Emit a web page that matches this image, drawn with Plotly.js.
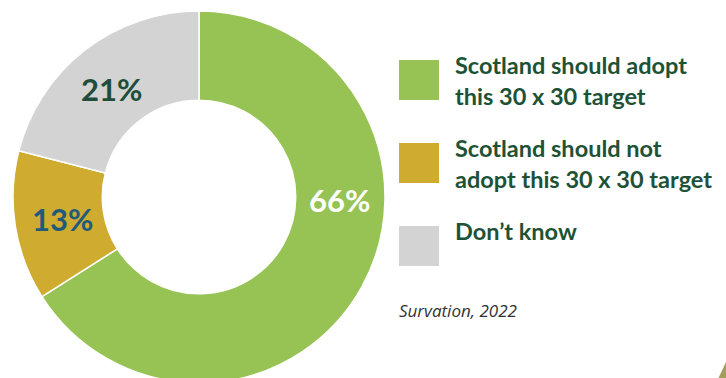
<!DOCTYPE html>
<html><head><meta charset="utf-8">
<script src="https://cdn.plot.ly/plotly-3.0.1.min.js"></script>
<style>html,body{margin:0;padding:0;overflow:hidden;background:#fff}#chart{width:726px;height:400px}</style>
</head><body><div id="chart"></div>
<script>
const categories = ["Scotland should adopt<br>this 30 x 30 target", "Scotland should not<br>adopt this 30 x 30 target", "Don’t know"];
const values = [66, 13, 21];
const colors = ["#97C355", "#CFAB30", "#D3D3D3"];
const labelColors = ["#FFFFFF", "#1F5B7A", "#1E4D3A"];
const source = "Survation, 2022";

const W = 726, H = 400;
const px = x => x / W, py = y => 1 - y / H;

const labelPos = [[339, 200], [62, 219], [111, 89]];
const legendTop = [60, 143, 226];

const annotations = values.map((v, i) => ({
  text: "<b>" + v + "%</b>", x: px(labelPos[i][0]), y: py(labelPos[i][1]),
  xref: "paper", yref: "paper", xanchor: "center", yanchor: "middle", showarrow: false,
  font: {family: "Lato, 'Open Sans', sans-serif", size: 31, color: labelColors[i]}
}));
categories.forEach((c, i) => {
  annotations.push({
    text: "<b>" + c + "</b>", x: px(453), y: py(legendTop[i] - 11),
    xref: "paper", yref: "paper", xanchor: "left", yanchor: "top", align: "left", showarrow: false,
    font: {family: "Lato, 'Open Sans', sans-serif", size: 23.5, color: "#1D5236"}
  });
});
annotations.push({
  text: "<i>" + source + "</i>", x: px(397), y: py(310), xref: "paper", yref: "paper",
  xanchor: "left", yanchor: "middle", showarrow: false,
  font: {family: "'Open Sans', sans-serif", size: 17, color: "#333333"}
});

const shapes = colors.map((c, i) => ({
  type: "rect", xref: "paper", yref: "paper",
  x0: px(399), x1: px(439), y0: py(legendTop[i]), y1: py(legendTop[i] + 40),
  fillcolor: c, line: {width: 0}
}));
shapes.push({type: "path", xref: "paper", yref: "paper",
  path: `M ${px(718)} ${py(379)} L ${px(726)} ${py(362)} L ${px(727)} ${py(379)} Z`,
  fillcolor: "#A39E5C", line: {width: 0}});

const data = [{
  type: "pie", values: values, labels: categories, hole: 0.52, sort: false,
  direction: "clockwise", rotation: 0,
  marker: {colors: colors, line: {color: "#FFFFFF", width: 1.5}},
  textinfo: "none", hoverinfo: "label+percent", showlegend: false,
  domain: {x: [px(13), px(385)], y: [py(383), py(11)]}
}];

Plotly.newPlot("chart", data, {
  width: W, height: H, margin: {l: 0, r: 0, t: 0, b: 0},
  paper_bgcolor: "#FFFFFF", showlegend: false, annotations: annotations, shapes: shapes
}, {displayModeBar: false, staticPlot: true});
</script></body></html>
